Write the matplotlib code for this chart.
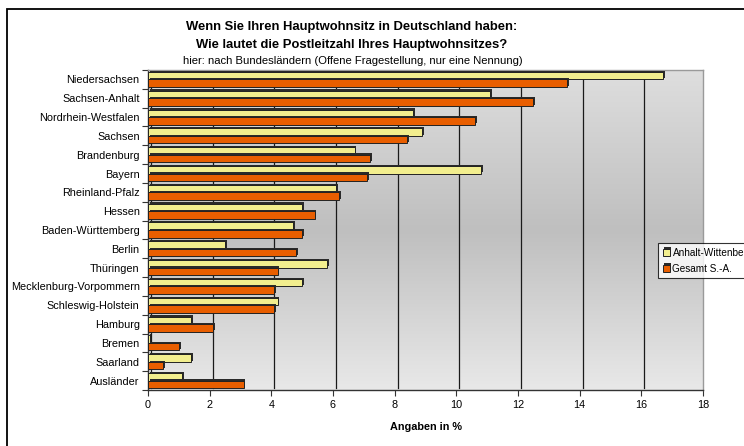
import matplotlib
matplotlib.use("Agg")
import matplotlib.pyplot as plt
import matplotlib.patheffects as pe
import matplotlib.transforms as mtransforms
from matplotlib.patches import Rectangle
import numpy as np

plt.rcParams['font.family'] = ['Liberation Sans', 'DejaVu Sans']

categories = ["Niedersachsen", "Sachsen-Anhalt", "Nordrhein-Westfalen", "Sachsen",
              "Brandenburg", "Bayern", "Rheinland-Pfalz", "Hessen",
              "Baden-Württemberg", "Berlin", "Thüringen", "Mecklenburg-Vorpommern",
              "Schleswig-Holstein", "Hamburg", "Bremen", "Saarland", "Ausländer"]
anhalt_wittenberg = [16.7, 11.1, 8.6, 8.9, 6.7, 10.8, 6.1, 5.0, 4.7, 2.5, 5.8, 5.0, 4.2, 1.4, 0.05, 1.4, 1.1]
gesamt_sa = [13.6, 12.5, 10.6, 8.4, 7.2, 7.1, 6.2, 5.4, 5.0, 4.8, 4.2, 4.1, 4.1, 2.1, 1.0, 0.5, 3.1]
series_names = ["Anhalt-Wittenberg", "Gesamt S.-A."]
xticks = [0, 2, 4, 6, 8, 10, 12, 14, 16, 18]

W, H = 744, 446
fig = plt.figure(figsize=(W / 100, H / 100), dpi=100)
fig.patch.set_facecolor("white")

# outer frame (left and top visible)
fig.add_artist(Rectangle((7 / W, -0.05), 1.2, 1 - 9 / H + 0.05, transform=fig.transFigure,
                         fill=False, edgecolor="black", linewidth=1.3))

ax = fig.add_axes([148 / W, 1 - 390 / H, 555 / W, 320 / H])

# gradient back wall
grad = np.concatenate([np.linspace(0.87, 0.75, 50), np.linspace(0.75, 0.91, 50)])
img = np.dstack([grad, grad, grad]).reshape(100, 1, 3)
ax.imshow(img, extent=[0, 18, len(categories) - 0.5, -0.5], aspect="auto", zorder=0,
          interpolation="bilinear")

y = np.arange(len(categories))
h = 0.4
shadow = [pe.SimplePatchShadow(offset=(1.3, 0.9), shadow_rgbFace="#2a2a2a", alpha=1.0), pe.Normal()]
b1 = ax.barh(y - h / 2, anhalt_wittenberg, height=h, color="#f2ee8e", edgecolor="#222222",
             linewidth=0.7, zorder=3, label=series_names[0])
b2 = ax.barh(y + h / 2, gesamt_sa, height=h, color="#e85e00", edgecolor="#222222",
             linewidth=0.7, zorder=3, label=series_names[1])
for b in list(b1) + list(b2):
    b.set_path_effects(shadow)

ax.set_xlim(0, 18)
ax.set_ylim(len(categories) - 0.5, -0.5)
ax.set_xticks(xticks)
ax.set_xticklabels([str(t) for t in xticks], fontsize=7.8)
ax.set_yticks(y)
ax.set_yticklabels(categories, fontsize=7.8)
ax.set_yticks(np.arange(len(categories) + 1) - 0.5, minor=True)
ax.tick_params(axis="y", which="major", length=0, pad=6)
ax.tick_params(axis="y", which="minor", length=4, width=0.8, color="#333333")
ax.tick_params(axis="x", length=4, width=0.8, color="#333333", pad=3)

ax.grid(axis="x", color="#1a1a1a", linewidth=0.9, zorder=1)
ax.set_axisbelow(True)
off = mtransforms.ScaledTranslation(3 / 100, 2 / 100, fig.dpi_scale_trans)
for gl in ax.xaxis.get_gridlines():
    gl.set_transform(gl.get_transform() + off)

for s in ["left", "bottom"]:
    ax.spines[s].set_color("#333333")
    ax.spines[s].set_linewidth(1.0)
for s in ["top", "right"]:
    ax.spines[s].set_color("#9a9a9a")
    ax.spines[s].set_linewidth(1.0)

ax.set_xlabel("Angaben in %", fontsize=7.8, fontweight="bold", labelpad=9)

fig.text(352 / W, 1 - 27 / H, "Wenn Sie Ihren Hauptwohnsitz in Deutschland haben:",
         ha="center", va="center", fontsize=9.4, fontweight="bold")
fig.text(352 / W, 1 - 45 / H, "Wie lautet die Postleitzahl Ihres Hauptwohnsitzes?",
         ha="center", va="center", fontsize=9.4, fontweight="bold")
fig.text(353 / W, 1 - 61 / H, "hier: nach Bundesländern (Offene Fragestellung, nur eine Nennung)",
         ha="center", va="center", fontsize=8.1)

leg = fig.legend(handles=[b1, b2], labels=series_names, loc="upper left",
                 bbox_to_anchor=(658 / W, 1 - 243 / H), fontsize=7.2, frameon=True,
                 fancybox=False, edgecolor="black", handlelength=0.7, handleheight=0.7,
                 handletextpad=0.3, borderpad=0.45, labelspacing=0.6, borderaxespad=0)
leg.get_frame().set_linewidth(0.8)

fig.savefig("out.png", dpi=100)
